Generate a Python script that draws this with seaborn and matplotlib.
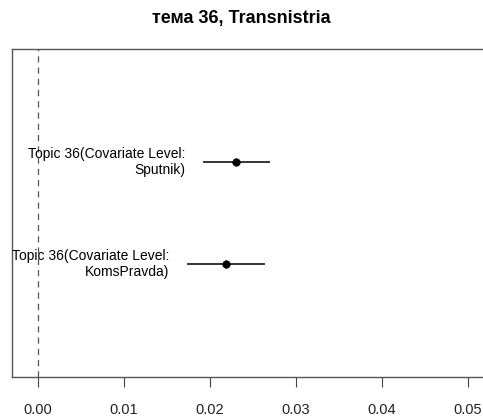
import pandas as pd
import numpy as np
import matplotlib
matplotlib.use('Agg')
import matplotlib.pyplot as plt
import seaborn as sns

# estimated topic proportions (from the picture)
labels = ['Topic 36(Covariate Level:\nKomsPravda)', 'Topic 36(Covariate Level:\nSputnik)']
estimates = [0.0219, 0.0230]
ci_lower = [0.0173, 0.0192]
ci_upper = [0.0264, 0.0270]
positions = [1, 2]
xticks = [0.00, 0.01, 0.02, 0.03, 0.04, 0.05]

df = pd.DataFrame({'label': labels, 'est': estimates, 'lo': ci_lower,
                   'hi': ci_upper, 'pos': positions})

sns.set_style('white')
plt.rcParams['font.family'] = ['Liberation Sans', 'DejaVu Sans']
plt.rcParams['text.color'] = 'black'

fig = plt.figure(figsize=(4.83, 4.18), dpi=100)
ax = fig.add_axes([12/483, 41/418, 490/483, 328/418])

ax.axvline(0, color='#555555', linestyle=(0, (5, 4)), linewidth=0.9)
ax.hlines(df['pos'], df['lo'], df['hi'], color='black', linewidth=1.1)
sns.scatterplot(data=df, x='est', y='pos', color='black', s=30, edgecolor='black', ax=ax, zorder=3)

for _, r in df.iterrows():
    ax.text(r['lo'] - 0.0020, r['pos'], r['label'], ha='right', va='center',
            fontsize=10, linespacing=1.2, color='black')

ax.set_xlim(-0.0030, 0.0540)
ax.set_ylim(-0.12, 3.12)
ax.set_yticks([])
ax.set_xticks(xticks)
ax.set_xticklabels(['%.2f' % t for t in xticks], fontsize=10.5, color='#222222')
ax.tick_params(axis='x', direction='out', length=7, width=0.8, pad=12, color='#444444', bottom=True)
ax.set_xlabel('')
ax.set_ylabel('')
for s in ax.spines.values():
    s.set_color('#555555')
    s.set_linewidth(1.0)

fig.text(0.5, 1 - 18/418, 'тема 36, Transnistria', ha='center', va='center',
         fontsize=13, fontweight='bold', color='black')

fig.savefig('out.png', dpi=100)
